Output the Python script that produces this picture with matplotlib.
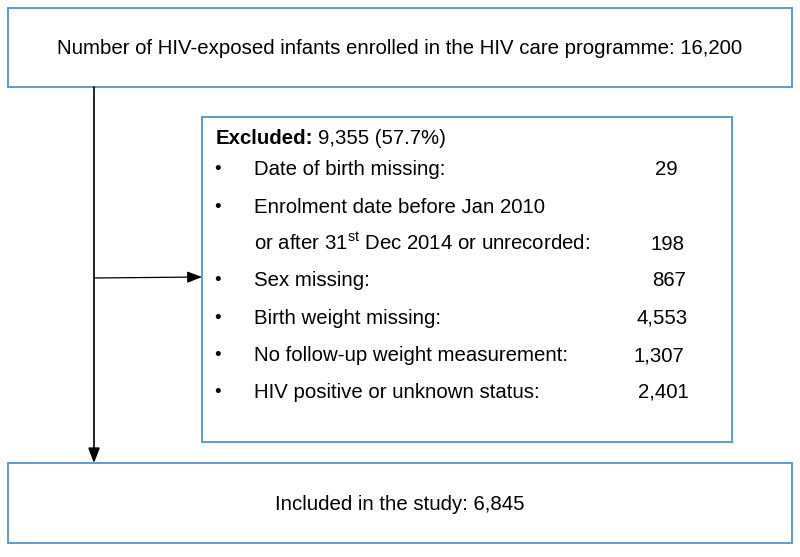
import matplotlib
matplotlib.use('Agg')
from matplotlib import pyplot as plt
from matplotlib.patches import Rectangle

plt.rcParams['font.family'] = ['Liberation Sans', 'DejaVu Sans']
plt.rcParams['mathtext.fontset'] = 'custom'
plt.rcParams['mathtext.rm'] = 'Liberation Sans'
plt.rcParams['mathtext.bf'] = 'Liberation Sans:bold'

# flowchart content
enrolled = 16200
excluded = 9355
included = 6845
reasons = [
    'Date of birth missing:',
    'Enrolment date before Jan 2010',
    r'or after 31$^{\mathrm{st}}$ Dec 2014 or unrecorded:',
    'Sex missing:',
    'Birth weight missing:',
    'No follow-up weight measurement:',
    'HIV positive or unknown status:',
]
counts = ['29', '', '198', '867', '4,553', '1,307', '2,401']
bullets = [True, True, False, True, True, True, True]

# layout in pixels (y downwards), y = text baseline
row_y = [175, 213, 250, 286, 324, 361, 398]
num_right = [678, 0, 684, 686, 688, 684, 689]

blue = '#5B9BD5'
fs = 14.7

fig = plt.figure(figsize=(8, 5.57), dpi=100)
ax = fig.add_axes([0, 0, 1, 1])
ax.set_xlim(0, 800)
ax.set_ylim(557, 0)
ax.axis('off')

for x0, y0, x1, y1 in [(8, 8, 792, 87), (202, 117, 732, 442), (8, 463, 792, 543)]:
    ax.add_patch(Rectangle((x0, y0), x1 - x0, y1 - y0, fill=False,
                           edgecolor=blue, lw=1.4))

ax.text(400, 48, 'Number of HIV-exposed infants enrolled in the HIV care programme: '
        f'{enrolled:,}', ha='center', va='center', fontsize=fs)
ax.text(400, 505, f'Included in the study: {included:,}',
        ha='center', va='center', fontsize=fs)

pct = excluded / enrolled * 100
head = ax.text(216, 144, 'Excluded:', ha='left', va='baseline',
               fontsize=fs, fontweight='bold')
fig.canvas.draw()
bb = head.get_window_extent().transformed(ax.transData.inverted())
ax.text(max(bb.x0, bb.x1) + 5, 144, f'{excluded:,} ({pct:.1f}%)',
        ha='left', va='baseline', fontsize=fs)

for label, n, b, y, xr in zip(reasons, counts, bullets, row_y, num_right):
    if b:
        ax.text(218, y - 1, '•', ha='center', va='baseline', fontsize=fs - 1)
    ax.text(254, y, label, ha='left', va='baseline', fontsize=fs)
    if n:
        ax.text(xr, y, n, ha='right', va='baseline', fontsize=fs)

arrow = dict(arrowstyle='-|>,head_length=0.9,head_width=0.35', color='black',
             lw=1.2, shrinkA=0, shrinkB=0)
ax.annotate('', xy=(94, 463), xytext=(94, 87), arrowprops=arrow)
ax.annotate('', xy=(202, 277), xytext=(94, 278),
            arrowprops=dict(arrow, lw=0.9))

fig.savefig('out.png', dpi=100)
